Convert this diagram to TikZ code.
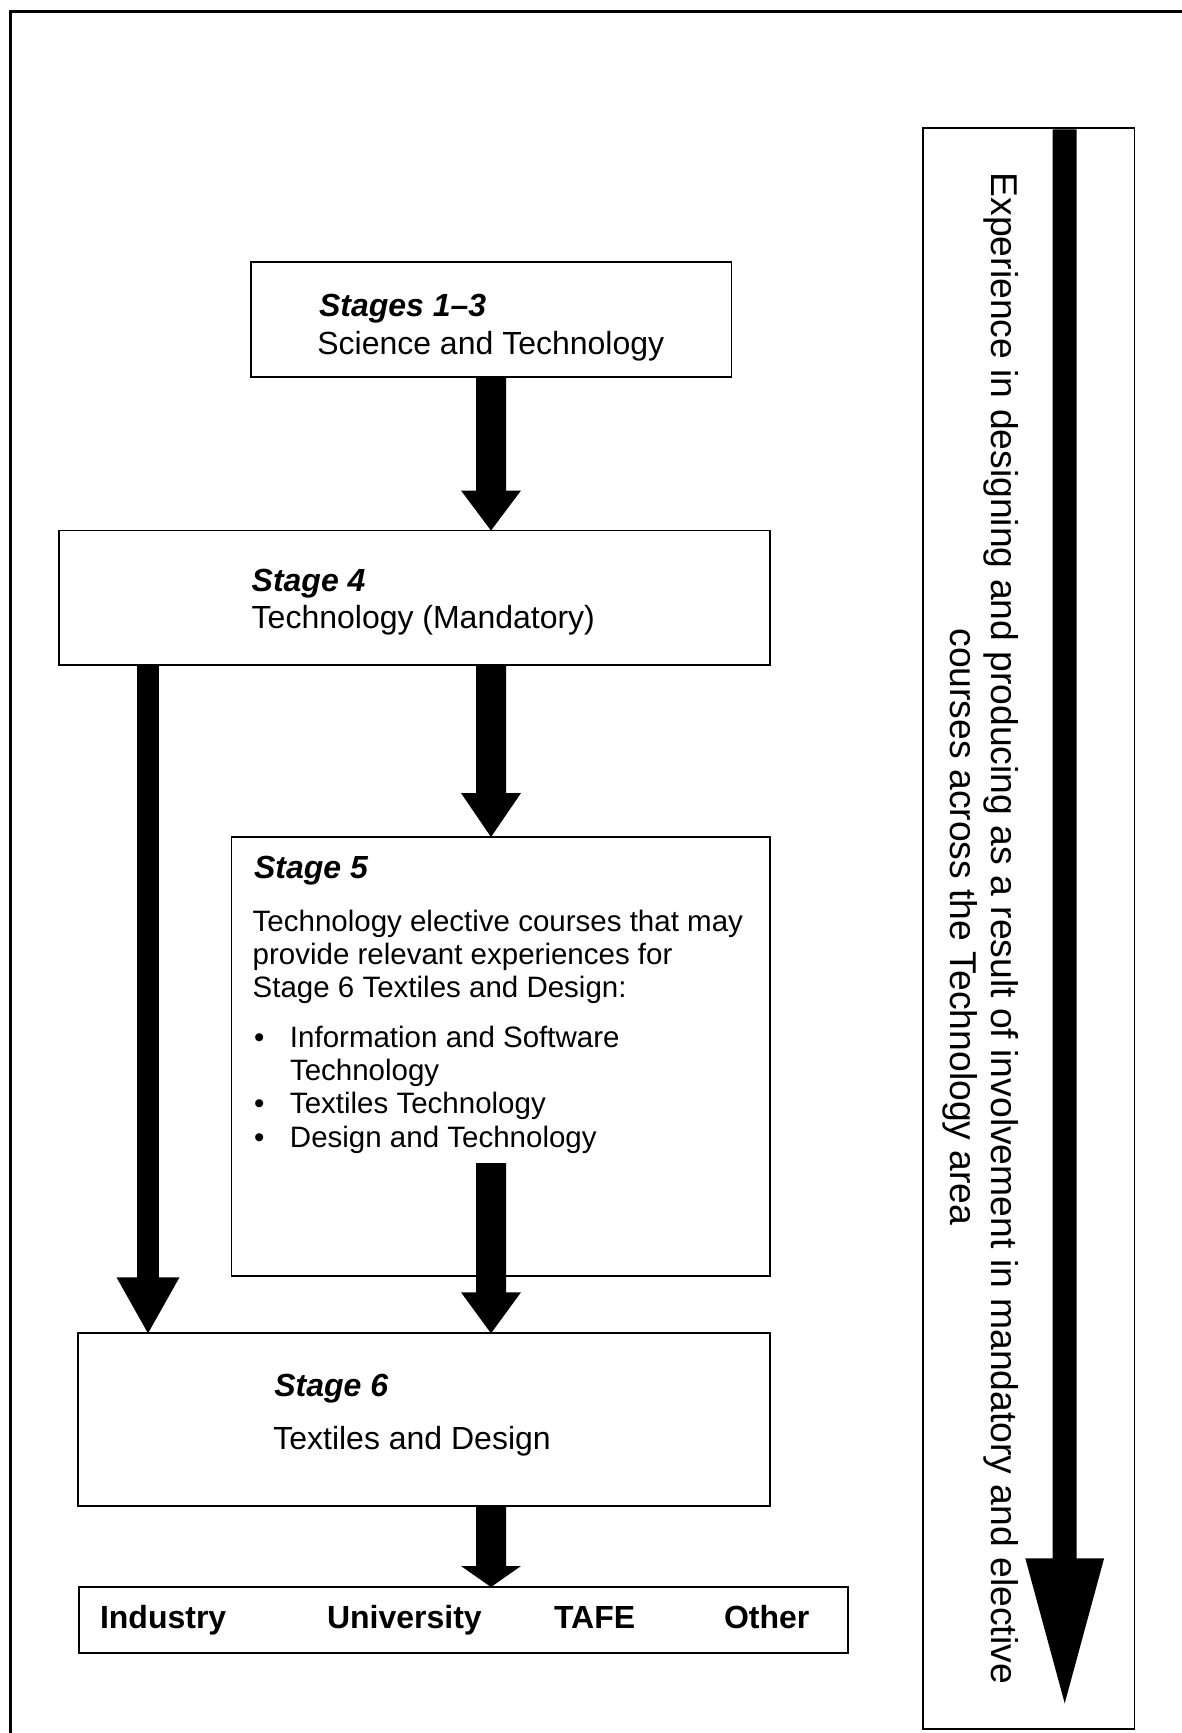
\documentclass[tikz,border=0pt]{standalone}
\usepackage{fontspec}
\setmainfont{Liberation Sans}
\usetikzlibrary{calc}
\tikzset{
  boxs/.style={draw=black, line width=1.8pt, inner sep=0pt, outer sep=0pt, anchor=north west},
  txt/.style={anchor=base west, inner sep=0pt, outer sep=0pt},
  big/.style={txt, font=\fontsize{32}{37}\selectfont},
  hd/.style={txt, font=\fontsize{32}{37}\selectfont\bfseries\itshape},
  sm/.style={txt, font=\fontsize{29.5}{33}\selectfont},
  bd/.style={txt, font=\fontsize{32}{37}\selectfont\bfseries},
  rot/.style={rotate=-90, anchor=base, inner sep=0pt, outer sep=0pt, font=\fontsize{37.3}{42}\selectfont},
  frame/.style={line width=3pt, black}
}
\newcommand\fatarrow[5]{%
  \fill[black] ($(#1)+(-#3,0)$) -- ($(#2)+(-#3,-#5)$) -- ($(#2)+(-#4,-#5)$) -- (#2)
    -- ($(#2)+(#4,-#5)$) -- ($(#2)+(#3,-#5)$) -- ($(#1)+(#3,0)$) -- cycle;}
\begin{document}
\begin{tikzpicture}[x=1pt, y=-1pt]
\useasboundingbox (0,0) rectangle (1182,1733);
\fill[white] (0,0) rectangle (1182,1733);
% outer frame (only top and left visible)
\draw[frame] (1182,11.3) -- (10.5,11.3) -- (10.5,1733);

% boxes
\node[boxs, minimum width=480.5pt, minimum height=114.7pt] (s13) at (251,262.3) {};
\node[boxs, minimum width=710.8pt, minimum height=134.5pt] (s4) at (58.8,530.5) {};
\node[boxs, minimum width=538.1pt, minimum height=439.3pt] (s5) at (231.5,837) {};
\node[boxs, minimum width=691.3pt, minimum height=172.7pt] (s6) at (78.3,1333.3) {};
\node[boxs, minimum width=769pt, minimum height=65.7pt] (dest) at (79,1587) {};
\node[boxs, minimum width=211.8pt, minimum height=1601.3pt] (expbox) at (922.7,127.7) {};

% texts
\node[hd] (t13a) at (319,316.5) {Stages 1–3};
\node[big] (t13b) at (317.3,354) {Science and Technology};
\node[hd] (t4a) at (251.7,591) {Stage 4};
\node[big] (t4b) at (251.7,628.5) {Technology (Mandatory)};
\node[hd] (t5a) at (254,878) {Stage 5};
\node[sm] (t5b) at (252.7,931) {Technology elective courses that may};
\node[sm] (t5c) at (252.7,964) {provide relevant experiences for};
\node[sm] (t5d) at (252.7,997) {Stage 6 Textiles and Design:};
\node[sm] (t5e) at (254,1047) {\makebox[36pt][l]{•}Information and Software};
\node[sm] (t5f) at (290,1080.3) {Technology};
\node[sm] (t5g) at (254,1113.6) {\makebox[36pt][l]{•}Textiles Technology};
\node[sm] (t5h) at (254,1147) {\makebox[36pt][l]{•}Design and Technology};
\node[hd] (t6a) at (274.3,1396) {Stage 6};
\node[big] (t6b) at (273.3,1449) {Textiles and Design};
\node[bd] (d1) at (100,1628.3) {Industry};
\node[bd] (d2) at (327,1628.3) {University};
\node[bd] (d3) at (554,1628.3) {TAFE};
\node[bd] (d4) at (724,1628.3) {Other};
\node[rot] (exp1) at (991,928.5) {Experience in designing and producing as a result of involvement in mandatory and elective};
\node[rot] (exp2) at (950,927) {courses across the Technology area};

% arrow coordinates
\coordinate (mx) at (491,0);
\coordinate (lx) at (148,0);
\coordinate (a1s) at (mx |- s13.south);
\coordinate (a1e) at (mx |- s4.north);
\coordinate (a2s) at (mx |- s4.south);
\coordinate (a2e) at (mx |- s5.north);
\coordinate (a3s) at (491,1163);
\coordinate (a3e) at (mx |- s6.north);
\coordinate (a4s) at (mx |- s6.south);
\coordinate (a4e) at (mx |- dest.north);
\coordinate (l1s) at (lx |- s4.south);
\coordinate (l1e) at (lx |- s6.north);
\coordinate (rtop) at (1064.7,129.3);
\coordinate (rtip) at (1064.7,1703.3);

\fatarrow{a1s}{a1e}{15}{30}{40}
\fatarrow{a2s}{a2e}{15}{30}{44}
\fatarrow{a3s}{a3e}{15}{30}{41}
\fatarrow{a4s}{a4e}{15}{30}{21}
\fatarrow{l1s}{l1e}{10.8}{31.5}{56}
\fatarrow{rtop}{rtip}{12}{39.4}{145}
\end{tikzpicture}
\end{document}
